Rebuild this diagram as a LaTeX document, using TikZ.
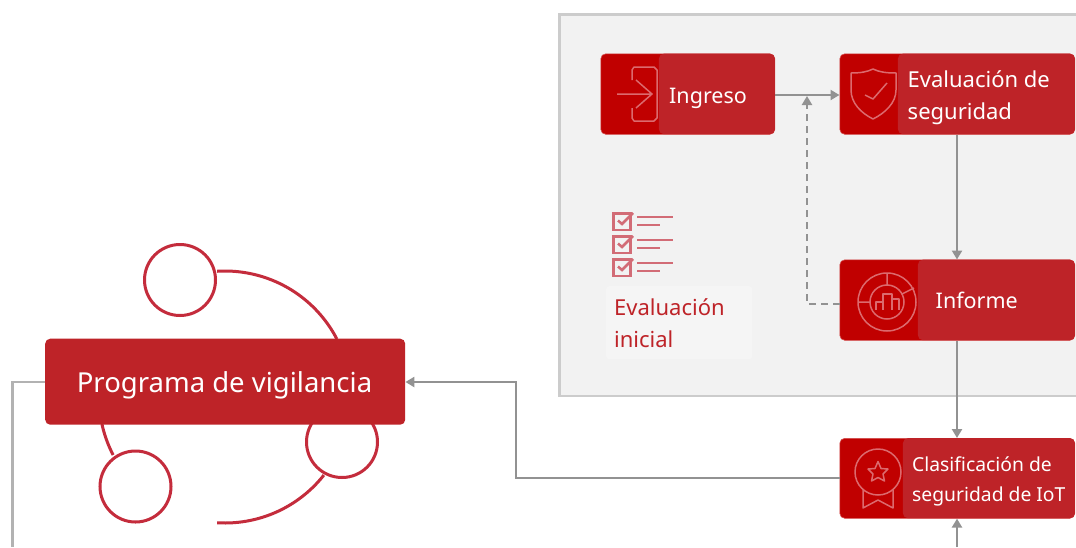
\documentclass[tikz,border=0pt]{standalone}
\usepackage{fontspec}
\setmainfont{Noto Sans}
\usetikzlibrary{arrows.meta,calc}
\definecolor{basered}{HTML}{C00000}
\definecolor{overred}{HTML}{BE2328}
\definecolor{ringred}{HTML}{C42C3C}
\definecolor{iconline}{HTML}{DC6A6E}
\definecolor{checkred}{HTML}{D26C76}
\definecolor{conn}{HTML}{929292}
\tikzset{
  base/.style={fill=basered,draw=basered!70!white,line width=.6pt,rounded corners=5pt,anchor=north west,inner sep=0pt},
  over/.style={fill=overred,rounded corners=5pt,anchor=north east,inner sep=0pt},
  lbl/.style={text=white,anchor=west,inner sep=0pt,align=left},
  conline/.style={draw=conn,line width=2.3pt},
  arrowed/.style={conline,-{Triangle[length=9pt,width=10pt]}},
  icon/.style={draw=iconline,line width=1.5pt,line join=round},
  ring/.style={draw=ringred,line width=3pt},
  ballc/.style={circle,draw=ringred,line width=3pt,fill=white,minimum size=71pt,inner sep=0pt},
  chk/.style={draw=checkred,line width=2.5pt},
}
\begin{document}
\begin{tikzpicture}[x=1pt,y=-1pt]
\useasboundingbox (0,0) rectangle (1076,547);
% panel
\fill[white] (0,0) rectangle (1076,547);
\draw[draw=black!20,fill=black!5,line width=2.4pt] (1080,14.5) -- (559.5,14.5) -- (559.5,396) -- (1080,396);

% ring
\begin{scope}[shift={(225,397)}]
\draw[ring] plot[domain=-93.6:-27.4,samples=40] ({126*cos(\x)},{126*sin(\x)});
\draw[ring] plot[domain=38.3:93.6,samples=30] ({126*cos(\x)},{126*sin(\x)});
\draw[ring] plot[domain=152.6:167.6,samples=12] ({126*cos(\x)},{126*sin(\x)});
\end{scope}
\node[ballc] (ba) at (180,280) {};
\node[ballc] (bb) at (342,442) {};
\node[ballc] (bc) at (135.5,486.5) {};

% boxes
\node[base,minimum width=174pt,minimum height=80.5pt] (ing) at (600.5,53.5) {};
\node[over,minimum width=116pt,minimum height=80.5pt] (ingo) at (ing.north east) {};
\node[lbl,font=\fontsize{21.5}{30}\selectfont] (ingt) at (669,98) {Ingreso};

\node[base,minimum width=235pt,minimum height=80.5pt] (seg) at (839.5,53.5) {};
\node[over,minimum width=177pt,minimum height=80.5pt] (sego) at (seg.north east) {};
\node[lbl,font=\fontsize{22}{32}\selectfont] (segt) at (907.5,97.5) {Evaluación de\\seguridad};

\node[base,minimum width=235pt,minimum height=80.5pt] (inf) at (839.5,259.5) {};
\node[over,minimum width=157pt,minimum height=80.5pt] (info) at (inf.north east) {};
\node[lbl,font=\fontsize{21.5}{30}\selectfont] (inft) at (935.5,300.5) {Informe};

\node[base,minimum width=235pt,minimum height=80pt] (cla) at (839.5,438) {};
\node[over,minimum width=172pt,minimum height=80pt] (clao) at (cla.north east) {};
\node[lbl,font=\fontsize{19.3}{30}\selectfont] (clat) at (912,481) {Clasificación de\\seguridad de IoT};

\node[over,anchor=north west,minimum width=360pt,minimum height=86pt] (prog) at (45,338.5) {};
\node[text=white,inner sep=0pt,font=\fontsize{27.5}{34}\selectfont] (progt) at (224.5,385) {Programa de vigilancia};

% initial evaluation label
\node[fill=white!96!black,rounded corners=3pt,anchor=north west,inner sep=0pt,minimum width=146pt,minimum height=73pt] (ini) at (606,286) {};
\node[anchor=west,inner sep=0pt,align=left,text=overred,font=\fontsize{22}{32}\selectfont] (init) at (614,323) {Evaluación\\inicial};

% connectors
\coordinate (dn) at (957,547);
\coordinate (up) at (12.5,547);
\draw[arrowed] (ing.east |- 0,95) -- (seg.west |- 0,95);
\draw[arrowed] (seg.south -| 957,0) -- (inf.north -| 957,0);
\draw[arrowed] (inf.south -| 957,0) -- (cla.north -| 957,0);
\draw[arrowed] (dn) -- (cla.south -| 957,0);
\draw[arrowed] (cla.west |- 0,478) -- (516,478) -- (516,382) -- (prog.east |- 0,382);
\draw[conline,draw=black!30] (prog.west |- 0,382) -- (12.5,382) -- (up);
\draw[conline,dash pattern=on 7pt off 5pt,-{Triangle[length=9pt,width=10pt]}] (inf.west |- 0,304) -- (807,304) -- (807,96);

% icon: door
\draw[icon] (632,80) -- (632,70) -- (634,67) -- (654,67) -- (657,70) -- (657,118) -- (654,121) -- (634,121) -- (632,118) -- (632,108);
\draw[icon] (617,94) -- (652,94) (636,80) -- (652,94) -- (636,108);
% icon: shield
\draw[icon] (851,73) .. controls (860,73) and (867,72) .. (873,69) .. controls (879,72) and (886,73) .. (896,73) -- (896,90) .. controls (896,103) and (885,113) .. (873,119) .. controls (861,113) and (851,103) .. (851,90) -- cycle;
\draw[icon] (865,95) -- (873,99) -- (887,83);
% icon: chart dial
\draw[icon] (887,302) circle[radius=29];
\draw[icon] (887,302) circle[radius=17];
\draw[icon] (887,273) -- (887,285) (858,302) -- (870,302) (902,294) -- (914,288);
\draw[icon] (876,310) -- (876,302) -- (883,302) -- (883,294) -- (892,294) -- (892,299) -- (899,299) -- (899,310) (883,302) -- (883,310) (892,299) -- (892,310);
% icon: badge
\draw[icon] (878,472) circle[radius=23];
\draw[icon] (878,461.5) -- (881,468.5) -- (888,469) -- (883,474) -- (884.5,481) -- (878,477.5) -- (871.5,481) -- (873,474) -- (868,469) -- (875,468.5) -- cycle;
\draw[icon] (863,489) -- (863,508) -- (878,500) -- (893,508) -- (893,489);

% checklist
\foreach \yy in {0,23,46}{
  \begin{scope}[yshift=-\yy pt]
  \draw[chk] (613.5,213.5) rectangle (630.5,230);
  \draw[chk] (618,220.5) -- (622,224) -- (633,213);
  \draw[chk] (637,217) -- (673,217) (637,225) -- (660,225);
  \end{scope}
}
\end{tikzpicture}
\end{document}
